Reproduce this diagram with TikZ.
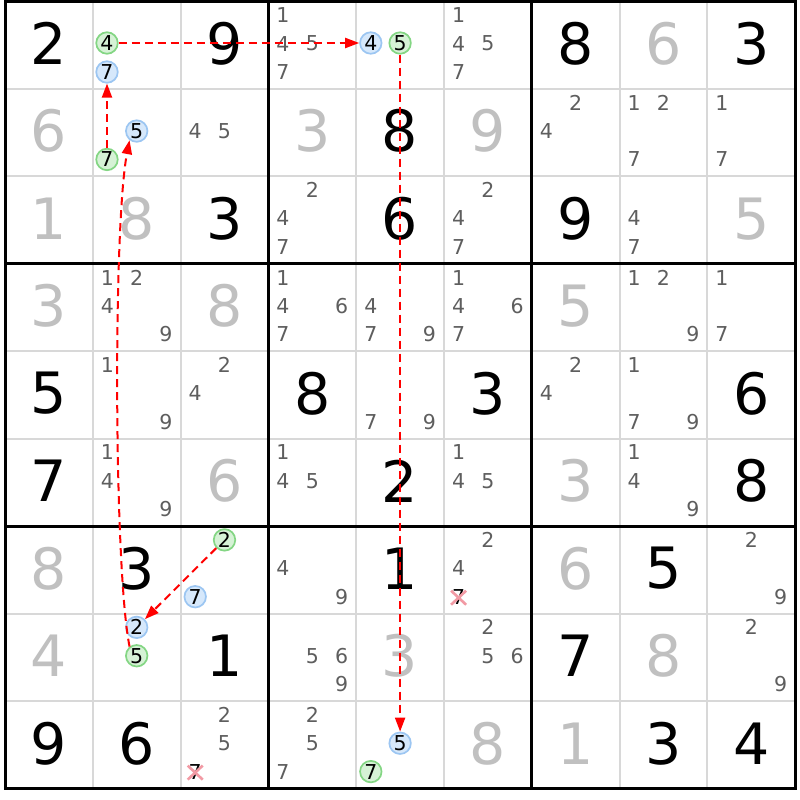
\documentclass[tikz,border=0pt]{standalone}
\usepackage{fontspec}
\setmainfont{DejaVu Sans}
\usetikzlibrary{arrows.meta}
\definecolor{candc}{HTML}{5E5E5E}
\definecolor{solvedc}{HTML}{C0C0C0}
\definecolor{gridc}{HTML}{D8D8D8}
\definecolor{grnfill}{HTML}{D6F2D6}
\definecolor{grnline}{HTML}{84D684}
\definecolor{blufill}{HTML}{D6E8FB}
\definecolor{bluline}{HTML}{9CC6F2}
\definecolor{elimc}{HTML}{F29AA4}
\definecolor{linkc}{HTML}{FF0000}
\tikzset{
  givenD/.style={inner sep=0pt, font=\fontsize{57}{60}\selectfont, text=black},
  solvedD/.style={inner sep=0pt, font=\fontsize{57}{60}\selectfont, text=solvedc},
  candD/.style={inner sep=0pt, font=\fontsize{20.5}{22}\selectfont, text=candc},
  elimD/.style={inner sep=0pt, font=\fontsize{20.5}{22}\selectfont, text=black},
  gcircle/.style={circle, draw=grnline, fill=grnfill, line width=1.7pt, minimum size=21.5pt, inner sep=0pt, font=\fontsize{20.5}{22}\selectfont, text=black},
  bcircle/.style={circle, draw=bluline, fill=blufill, line width=1.7pt, minimum size=21.5pt, inner sep=0pt, font=\fontsize{20.5}{22}\selectfont, text=black},
  link/.style={draw=linkc, line width=2pt, dash pattern=on 8pt off 5pt, -{Triangle[length=14pt,width=10pt]}},
  elimX/.style={draw=elimc, line width=2.6pt},
  gridthin/.style={draw=gridc, line width=2pt},
  gridthick/.style={draw=black, line width=3pt},
}
\newcommand\gd[3]{\node[givenD] (d#1#2) at ({5+(#2-0.5)*87.8},{1.5+(#1-0.5)*87.45-1.5}) {#3};}
\newcommand\sd[3]{\node[solvedD] (d#1#2) at ({5+(#2-0.5)*87.8},{1.5+(#1-0.5)*87.45-1.5}) {#3};}
\newcommand\cd[3]{\foreach \k in {#3}{%
  \node[candD] (c#1#2\k) at ({5+(#2-1)*87.8+14.6+mod(\k-1,3)*29.3},{1.5+(#1-1)*87.45+13.7+floor((\k-1)/3)*28.4}) {\k};}}
\newcommand\cc[5]{\node[#4] (#5) at ({5+(#2-1)*87.8+14.6+mod(#3-1,3)*29.3},{1.5+(#1-1)*87.45+13.7+floor((#3-1)/3)*28.4}) {#3};}
\begin{document}
\begin{tikzpicture}[x=1pt,y=-1pt]
\useasboundingbox (0,0) rectangle (800,800);
\fill[white] (0,0) rectangle (800,800);
% thin grid lines
\foreach \i in {1,2,4,5,7,8}{
  \draw[gridthin] ({5+\i*87.8},1.5) -- ({5+\i*87.8},788.6);
  \draw[gridthin] (5,{1.5+\i*87.45}) -- (795.2,{1.5+\i*87.45});
}
\foreach \i in {3,6}{
  \draw[gridthick] ({5+\i*87.8},1.5) -- ({5+\i*87.8},788.6);
  \draw[gridthick] (5,{1.5+\i*87.45}) -- (795.2,{1.5+\i*87.45});
}
\draw[gridthick] (5,1.5) rectangle (795.2,788.6);
% given digits
\gd{1}{1}{2}\gd{1}{3}{9}\gd{1}{7}{8}\gd{1}{9}{3}
\gd{2}{5}{8}
\gd{3}{3}{3}\gd{3}{5}{6}\gd{3}{7}{9}
\gd{5}{1}{5}\gd{5}{4}{8}\gd{5}{6}{3}\gd{5}{9}{6}
\gd{6}{1}{7}\gd{6}{5}{2}\gd{6}{9}{8}
\gd{7}{2}{3}\gd{7}{5}{1}\gd{7}{8}{5}
\gd{8}{3}{1}\gd{8}{7}{7}
\gd{9}{1}{9}\gd{9}{2}{6}\gd{9}{8}{3}\gd{9}{9}{4}
% solved digits
\sd{1}{8}{6}
\sd{2}{1}{6}\sd{2}{4}{3}\sd{2}{6}{9}
\sd{3}{1}{1}\sd{3}{2}{8}\sd{3}{9}{5}
\sd{4}{1}{3}\sd{4}{3}{8}\sd{4}{7}{5}
\sd{6}{3}{6}\sd{6}{7}{3}
\sd{7}{1}{8}\sd{7}{7}{6}
\sd{8}{1}{4}\sd{8}{5}{3}\sd{8}{8}{8}
\sd{9}{6}{8}\sd{9}{7}{1}
% candidates
\cd{1}{4}{1,4,5,7}\cd{1}{6}{1,4,5,7}
\cd{2}{3}{4,5}\cd{2}{7}{2,4}\cd{2}{8}{1,2,7}\cd{2}{9}{1,7}
\cd{3}{4}{2,4,7}\cd{3}{6}{2,4,7}\cd{3}{8}{4,7}
\cd{4}{2}{1,2,4,9}\cd{4}{4}{1,4,6,7}\cd{4}{5}{4,7,9}\cd{4}{6}{1,4,6,7}\cd{4}{8}{1,2,9}\cd{4}{9}{1,7}
\cd{5}{2}{1,9}\cd{5}{3}{2,4}\cd{5}{5}{7,9}\cd{5}{7}{2,4}\cd{5}{8}{1,7,9}
\cd{6}{2}{1,4,9}\cd{6}{4}{1,4,5}\cd{6}{6}{1,4,5}\cd{6}{8}{1,4,9}
\cd{7}{4}{4,9}\cd{7}{6}{2,4}\cd{7}{9}{2,9}
\cd{8}{4}{5,6,9}\cd{8}{6}{2,5,6}\cd{8}{9}{2,9}
\cd{9}{3}{2,5}\cd{9}{4}{2,5,7}
% eliminated candidates
\cc{7}{6}{7}{elimD}{x76}
\cc{9}{3}{7}{elimD}{x93}
\draw[elimX] ([shift={(-7.5,-6)}]x76.center) -- ([shift={(7.5,8)}]x76.center);
\draw[elimX] ([shift={(7.5,-6)}]x76.center) -- ([shift={(-7.5,8)}]x76.center);
\draw[elimX] ([shift={(-7.5,-6)}]x93.center) -- ([shift={(7.5,8)}]x93.center);
\draw[elimX] ([shift={(7.5,-6)}]x93.center) -- ([shift={(-7.5,8)}]x93.center);
% circled candidates
\cc{1}{2}{4}{gcircle,xshift=-0.4pt,yshift=0.6pt}{L1a}
\cc{1}{2}{7}{bcircle,xshift=-0.4pt}{L5b}
\cc{1}{5}{4}{bcircle,yshift=0.6pt}{L1b}
\cc{1}{5}{5}{gcircle,yshift=0.6pt}{L2a}
\cc{2}{2}{5}{bcircle}{L4b}
\cc{2}{2}{7}{gcircle,xshift=-0.4pt}{L5a}
\cc{7}{3}{2}{gcircle}{L3a}
\cc{7}{3}{7}{bcircle}{B73}
\cc{8}{2}{2}{bcircle}{L3b}
\cc{8}{2}{5}{gcircle}{L4a}
\cc{9}{5}{5}{bcircle}{L2b}
\cc{9}{5}{7}{gcircle}{G95}
% links
\draw[link] (L1a) -- (L1b);
\draw[link] (L2a) -- (L2b);
\draw[link] (L3a) -- (L3b);
\draw[link] (L5a) -- (L5b);
\draw[link] (L4a.128) .. controls (114,570) and (113,225) .. (L4b.232);
\end{tikzpicture}
\end{document}
